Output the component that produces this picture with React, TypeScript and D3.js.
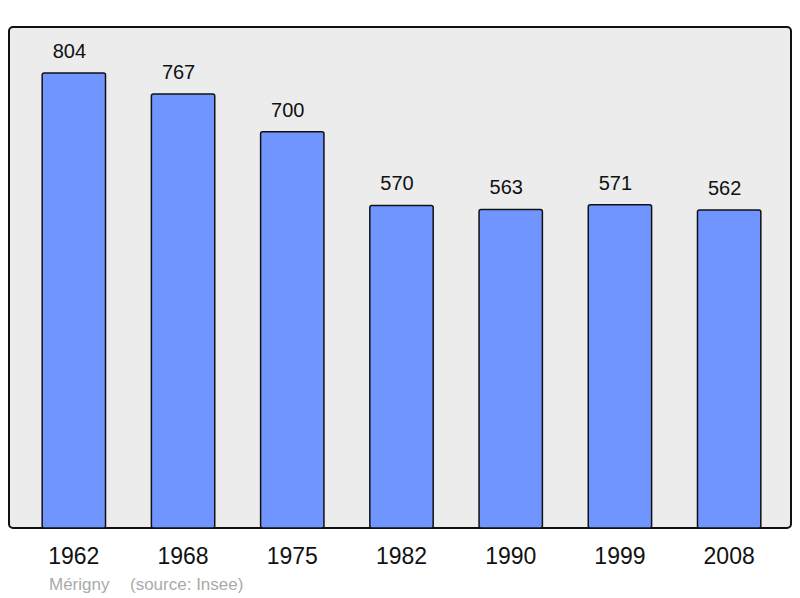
import * as d3 from 'd3';

const years = ['1962', '1968', '1975', '1982', '1990', '1999', '2008'];
const population = [804, 767, 700, 570, 563, 571, 562];
const commune = 'Mérigny';
const source = '(source: Insee)';

const WIDTH = 800;
const HEIGHT = 598;
const PANEL = { left: 9, top: 27, right: 791, bottom: 528 };

export default function App() {
  const x = d3
    .scaleBand<string>()
    .domain(years)
    .range([PANEL.left + 1.5, PANEL.right + 1.5])
    .paddingInner(0.42)
    .paddingOuter(0.29);

  const y = d3.scaleLinear().domain([0, 804]).range([PANEL.bottom, 73]);

  return (
    <svg
      width={WIDTH}
      height={HEIGHT}
      style={{ position: 'absolute', left: 0, top: 0, fontFamily: 'Liberation Sans, Arial, sans-serif' }}
    >
      <rect width={WIDTH} height={HEIGHT} fill="#fff" />
      {/* Panel */}
      <rect
        x={PANEL.left}
        y={PANEL.top}
        width={PANEL.right - PANEL.left}
        height={PANEL.bottom - PANEL.top}
        rx={4}
        fill="#ececec"
        stroke="#111"
        strokeWidth={2}
      />

      {/* Bars */}
      {years.map((yr, i) => (
        <g key={yr}>
          <rect
            x={x(yr)}
            y={y(population[i])}
            width={x.bandwidth()}
            height={PANEL.bottom - y(population[i])}
            rx={2}
            fill="#7195ff"
            stroke="#111"
            strokeWidth={1.5}
          />
          {/* value labels sit slightly left of bar centre in the original */}
          <text
            x={(x(yr) ?? 0) + x.bandwidth() / 2 - 4.5}
            y={y(population[i]) - 15}
            textAnchor="middle"
            fontSize={20}
            fill="#111"
          >
            {population[i]}
          </text>
          <text
            x={(x(yr) ?? 0) + x.bandwidth() / 2}
            y={564}
            textAnchor="middle"
            fontSize={23}
            fill="#111"
          >
            {yr}
          </text>
        </g>
      ))}

      {/* Footer */}
      <text x={49} y={590} fontSize={17} fill="#aaa">
        {commune}
      </text>
      <text x={130} y={590} fontSize={17} fill="#aaa">
        {source}
      </text>
    </svg>
  );
}
